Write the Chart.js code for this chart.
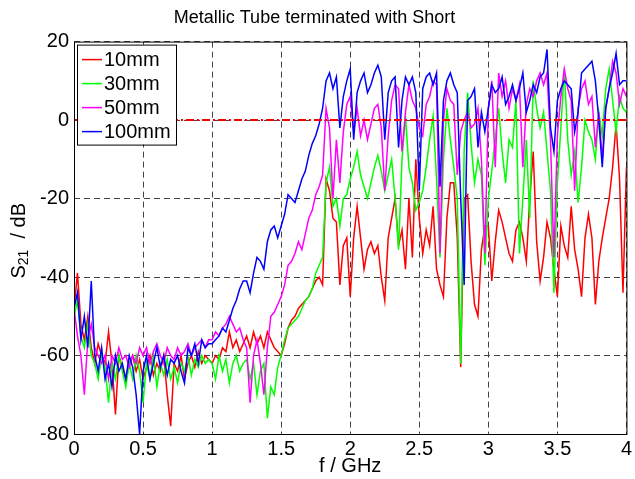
<!DOCTYPE html>
<html>
<head>
<meta charset="utf-8">
<title>Metallic Tube terminated with Short</title>
<script src="https://cdn.jsdelivr.net/npm/chart.js@4/dist/chart.umd.min.js"></script>
<style>
    body { margin: 0; background: #fff; }
    #wrap { width: 635px; height: 479px; }
</style>
</head>
<body>
<div id="wrap"><canvas id="s21Chart"></canvas></div>
<script>
// frequency grid (GHz), one sample every 0.025 GHz from 0 to 4
const freqStep = 0.025;

// S21 in dB
const s21_10mm = [
    -48, -39, -52, -56, -50, -58, -62, -57, -60, -62,
    -54, -62, -75, -60, -63, -66, -62, -60, -64, -61,
    -66, -63, -60, -65, -62, -64, -60, -70, -78, -62,
    -64, -60, -66, -62, -60, -63, -59, -62, -60, -61,
    -62, -60, -61, -58, -59, -54, -58, -56, -59, -57,
    -55, -58, -54, -57, -55, -58, -54, -56, -58, -59,
    -60, -57, -53, -51, -50, -48, -47, -46, -45, -43,
    -41, -40, -42, -15, -18, -25, -26, -42, -32, -30,
    -45, -30, -22, -30, -38, -33, -31, -34, -32, -40,
    -46, -30, -25, -20, -32, -28, -38, -20, -35, -10,
    -25, -34, -28, -32, -22, -38, -42, -45, -25, -16,
    -16, -30, -63, -20, -19, -36, -47, -50, -33, -27,
    -27, -41, -31, -23, -26, -30, -34, -36, -28, -26,
    -30, -36, -20, -8, -31, -41, -35, -26, -30, -38,
    -45, -27, -32, -35, -22, -33, -38, -45, -30, -24,
    -30, -47, -36, -30, -25, -20, -12, -1, -15, -44, -12
];
const s21_30mm = [
    -50, -46, -55, -58, -52, -60, -62, -66, -60, -63,
    -72, -62, -66, -60, -64, -68, -62, -66, -60, -64,
    -72, -62, -66, -60, -68, -62, -65, -61, -66, -63,
    -67, -62, -64, -60, -65, -61, -63, -60, -62, -61,
    -62, -66, -60, -64, -61, -67, -62, -60, -64, -62,
    -61, -66, -62, -70, -64, -62, -76, -68, -70, -63,
    -60, -56, -53, -52, -51, -50, -48, -46, -45, -43,
    -39, -37, -35, -16, -12, -22, -20, -27, -20, -19,
    -15, -12, -8, -14, -17, -20, -16, -12, -9, -13,
    -18, -14, -10, -20, -33, -10, 1, -12, -16, -23,
    -21, -18, -12, -5, 1, -15, -35, -10, 3, -5,
    -12, -20, -62, -8, 7, -6, -16, -10, -14, -37,
    -20, -13, -5, 3, -8, -16, -5, -7, 5, -34,
    -20, -5, -25, 10, 3, -2, 2, -8, -18, -44,
    -16, -2, 13, -5, -14, -8, -21, -12, 0, -3,
    -5, -10, 2, -4, 8, 13, 5, -3, 6, 3, 2
];
const s21_50mm = [
    -48, -55, -60, -70, -56, -52, -58, -60, -62, -60,
    -66, -60, -62, -58, -61, -60, -63, -60, -62, -58,
    -60, -58, -62, -59, -57, -60, -62, -58, -60, -61,
    -58, -60, -59, -57, -60, -58, -57, -56, -58, -56,
    -56, -54, -55, -53, -52, -50, -52, -54, -53, -56,
    -58, -72, -60, -56, -62, -70, -58, -50, -49, -47,
    -45, -42, -37, -36, -34, -31, -33, -29, -25, -23,
    -19, -17, -14, 3, -2, -20, -5, -16, -3, 4,
    6, -3, 3, -4, 0, -5, -1, 3, 4, -2,
    -18, -4, 5, 9, 8, -8, 2, 9, 5, 3,
    -2, -4, 4, 6, 10, 9, -34, 0, 8, 5,
    4, -14, -3, 0, 2, -2, -1, 3, -10, -34,
    3, 10, -12, 12, 6, 10, 3, 8, 5, 9,
    -12, 4, 8, 6, 10, 12, 9, 12, -5, -35,
    -4, 6, 13, 8, 5, -18, 3, 8, 10, 4,
    6, -7, 2, -10, 3, 8, 15, 12, 4, 8, 6
];
const s21_100mm = [
    -48, -44, -56, -50, -58, -41, -60, -64, -58, -66,
    -62, -68, -60, -64, -62, -66, -60, -63, -70, -80,
    -64, -60, -66, -62, -58, -63, -60, -65, -61, -62,
    -60, -64, -67, -58, -60, -57, -62, -56, -58, -57,
    -57, -56, -55, -53, -54, -51, -48, -46, -43, -41,
    -41, -44, -39, -35, -36, -38, -31, -28, -27, -30,
    -27, -24, -19, -20, -21, -18, -15, -13, -9, -6,
    -4, -1, 3, 10, 12, 8, 11, -2, 6, 10,
    13, -5, 7, 10, 12, 7, 9, 12, 14, 11,
    -5, 7, 10, 11, -7, 5, 11, 9, 11, 7,
    -18, 8, 11, 12, 9, 12, -17, 5, 10, 12,
    9, 7, -20, -42, 5, 6, 8, -7, 2, -3,
    3, 9, 7, 8, 11, 4, 6, 9, 5, 8,
    12, 2, 5, 9, 7, 11, 12, 18, -2, -8,
    5, 8, 10, 9, 8, -3, 2, 12, 13, 14,
    15, 10, 0, -12, 3, 8, 12, 17, 9, 10, 10
];
const refLevel = 0;

const seriesNames = ["10mm", "30mm", "50mm", "100mm"];
const seriesColors = ["#ff0000", "#00ff00", "#ff00ff", "#0000ff"];
const xTicks = [0, 0.5, 1, 1.5, 2, 2.5, 3, 3.5, 4];
const yTicks = [-80, -60, -40, -20, 0, 20];

const fontFamily = '"Liberation Sans", Arial, Helvetica, sans-serif';
const freqs = s21_10mm.map((_, i) => i * freqStep);

function toPoints(values) {
    return values.map((v, i) => ({ x: freqs[i], y: v }));
}

// legend box inside the axes, top left (MATLAB style)
const boxLegend = {
    id: "boxLegend",
    afterDraw(chart) {
        const { ctx, chartArea } = chart;
        const x = chartArea.left + 3;
        const y = chartArea.top + 3;
        ctx.save();
        ctx.fillStyle = "#fff";
        ctx.fillRect(x, y, 99, 100);
        ctx.strokeStyle = "#000";
        ctx.lineWidth = 1;
        ctx.strokeRect(x + 0.5, y + 0.5, 99, 100);
        ctx.font = "20px " + fontFamily;
        ctx.textBaseline = "middle";
        seriesNames.forEach((name, i) => {
            const ry = y + 15 + i * 24;
            ctx.strokeStyle = seriesColors[i];
            ctx.lineWidth = 1.5;
            ctx.beginPath();
            ctx.moveTo(x + 5, ry);
            ctx.lineTo(x + 25, ry);
            ctx.stroke();
            ctx.fillStyle = "#000";
            ctx.fillText(name, x + 27, ry + 1);
        });
        ctx.restore();
    }
};

// black box around the axes + y label with subscript
const axesBox = {
    id: "axesBox",
    afterDraw(chart) {
        const { ctx, chartArea } = chart;
        ctx.save();
        ctx.strokeStyle = "#000";
        ctx.lineWidth = 1;
        ctx.strokeRect(chartArea.left + 0.5, chartArea.top + 0.5,
            chartArea.right - chartArea.left, chartArea.bottom - chartArea.top);

        const cy = (chartArea.top + chartArea.bottom) / 2;
        ctx.translate(19, cy + 3);
        ctx.rotate(-Math.PI / 2);
        ctx.fillStyle = "#000";
        ctx.textBaseline = "middle";
        const big = "20px " + fontFamily;
        const small = "14px " + fontFamily;
        ctx.font = big;
        const wS = ctx.measureText("S").width;
        const wRest = ctx.measureText("  / dB").width;
        ctx.font = small;
        const wSub = ctx.measureText("21").width;
        let tx = -(wS + wSub + wRest) / 2;
        ctx.font = big;
        ctx.fillText("S", tx, 0);
        tx += wS;
        ctx.font = small;
        ctx.fillText("21", tx, 5);
        tx += wSub;
        ctx.font = big;
        ctx.fillText("  / dB", tx, 0);
        ctx.restore();
    }
};

const allSeries = [s21_10mm, s21_30mm, s21_50mm, s21_100mm];
const datasets = allSeries.map((values, i) => ({
    label: seriesNames[i],
    data: toPoints(values),
    borderColor: seriesColors[i],
    borderWidth: 1.5,
    pointRadius: 0,
    tension: 0,
    order: 4 - i
}));
datasets.push({
    label: "",
    data: [{ x: freqs[0], y: refLevel }, { x: freqs[freqs.length - 1], y: refLevel }],
    borderColor: "#ff0000",
    borderWidth: 2,
    borderDash: [8, 3, 2, 3],
    pointRadius: 0,
    order: 0
});

const gridStyle = {
    color: "#444",
    lineWidth: 1,
    drawTicks: false
};

new Chart(document.getElementById("s21Chart"), {
    type: "line",
    data: { datasets: datasets },
    options: {
        responsive: true,
        maintainAspectRatio: false,
        animation: false,
        layout: { padding: { top: 0, right: 6, bottom: 0, left: 0 } },
        plugins: {
            legend: { display: false },
            tooltip: { enabled: false },
            title: {
                display: true,
                text: "Metallic Tube terminated with Short",
                color: "#000",
                font: { family: fontFamily, size: 18, weight: "normal" },
                padding: { top: 7, bottom: 13 }
            }
        },
        scales: {
            x: {
                type: "linear",
                min: xTicks[0],
                max: xTicks[xTicks.length - 1],
                afterBuildTicks: (scale) => { scale.ticks = xTicks.map(v => ({ value: v })); },
                ticks: {
                    color: "#000",
                    padding: 3,
                    maxRotation: 0,
                    font: { family: fontFamily, size: 20 },
                    callback: (v) => String(v)
                },
                grid: gridStyle,
                border: { display: false, dash: [6, 4] },
                title: {
                    display: true,
                    text: "f / GHz",
                    color: "#000",
                    font: { family: fontFamily, size: 20 },
                    padding: { top: 0, bottom: 1 }
                },
                afterFit: (scale) => { scale.height = 45; }
            },
            y: {
                type: "linear",
                min: yTicks[0],
                max: yTicks[yTicks.length - 1],
                afterBuildTicks: (scale) => { scale.ticks = yTicks.map(v => ({ value: v })); },
                ticks: {
                    color: "#000",
                    padding: 5,
                    font: { family: fontFamily, size: 20 },
                    callback: (v) => String(v)
                },
                grid: gridStyle,
                border: { display: false, dash: [6, 4] },
                afterFit: (scale) => { scale.width = 74; }
            }
        }
    },
    plugins: [boxLegend, axesBox]
});
</script>
</body>
</html>
